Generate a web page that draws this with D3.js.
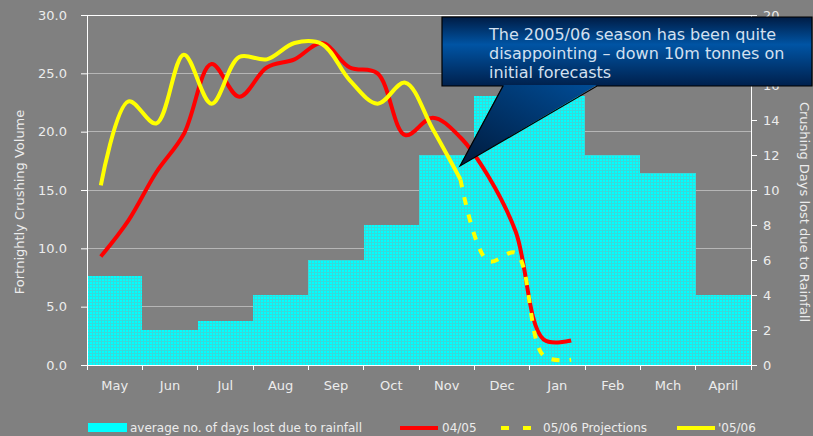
<!DOCTYPE html>
<html>
<head>
<meta charset="utf-8">
<script src="https://cdn.jsdelivr.net/npm/d3@7"></script>
<style>
  html, body { margin: 0; padding: 0; background: #808080; }
  svg { display: block; }
  text { font-family: "DejaVu Sans", Verdana, sans-serif; }
</style>
</head>
<body>
<svg id="chart" width="813" height="436"></svg>
<script>
// Season months (crushing season runs May to April)
const months = ["May", "Jun", "Jul", "Aug", "Sep", "Oct", "Nov", "Dec", "Jan", "Feb", "Mch", "April"];

// Average number of crushing days lost to rainfall per month (right axis)
const daysLost = [5.1, 2.0, 2.5, 4.0, 6.0, 8.0, 12.0, 15.4, 15.4, 12.0, 11.0, 4.0];

// Fortnightly crushing volume, 04/05 season (May fortnight 1 onwards)
const crush0405 = [9.3, 12.4, 16.5, 19.8, 25.8, 23.0, 25.5, 26.2, 27.6, 25.5, 25.0, 19.7, 21.2, 19.5, 16.2, 11.4, 2.2, 2.1];

// Fortnightly crushing volume, 05/06 season actuals (May fortnight 1 onwards)
const crush0506 = [15.4, 22.6, 20.7, 26.6, 22.4, 26.4, 26.2, 27.6, 27.5, 24.4, 22.4, 24.2, 20.2, 15.9];

// 05/06 projections, continuing from the last actual fortnight
const projFortnights = ["Nov 2", "Dec 1", "Dec 2", "Jan 1", "Jan 2"];
const proj0506 = [15.9, 8.9, 9.6, 0.8, 0.45];

const leftTicks = [0, 5, 10, 15, 20, 25, 30];
const rightTicks = [0, 2, 4, 6, 8, 10, 12, 14, 16, 18, 20];

const calloutLines = [
  "The 2005/06 season has been quite",
  "disappointing \u2013 down 10m tonnes on",
  "initial forecasts"
];

// Two fortnights per month
const fortnights = months.flatMap(m => [m + " 1", m + " 2"]);

const svg = d3.select("#chart");
const W = 813, H = 436;
const plot = { left: 87, right: 751, top: 15, bottom: 365 };

const xBand = d3.scaleBand().domain(months).range([plot.left, plot.right]).padding(0);
const xFort = d3.scalePoint().domain(fortnights).range([plot.left, plot.right]).padding(0.5);
const yL = d3.scaleLinear().domain([0, 30]).range([plot.bottom, plot.top]);
const yR = d3.scaleLinear().domain([0, 20]).range([plot.bottom, plot.top]);

const defs = svg.append("defs");

// Fine grid texture on the rainfall bars
const pat = defs.append("pattern")
  .attr("id", "barTex").attr("patternUnits", "userSpaceOnUse")
  .attr("width", 3).attr("height", 3);
pat.append("rect").attr("width", 3).attr("height", 3).attr("fill", "#00ffff");
pat.append("rect").attr("x", 0).attr("y", 2).attr("width", 3).attr("height", 1).attr("fill", "#38dada");
pat.append("rect").attr("x", 2).attr("y", 0).attr("width", 1).attr("height", 3).attr("fill", "#38dada");

// Callout gradients
const gBox = defs.append("linearGradient").attr("id", "boxGrad")
  .attr("x1", 0).attr("y1", 0).attr("x2", 0).attr("y2", 1);
gBox.append("stop").attr("offset", "0%").attr("stop-color", "#001c44");
gBox.append("stop").attr("offset", "40%").attr("stop-color", "#0054a4");
gBox.append("stop").attr("offset", "100%").attr("stop-color", "#00204c");

const gPtr = defs.append("linearGradient").attr("id", "ptrGrad")
  .attr("x1", 0.9).attr("y1", 0).attr("x2", 0).attr("y2", 1);
gPtr.append("stop").attr("offset", "0%").attr("stop-color", "#004a92");
gPtr.append("stop").attr("offset", "100%").attr("stop-color", "#001a3c");

// Background
svg.append("rect").attr("width", W).attr("height", H).attr("fill", "#808080");

// Horizontal gridlines at left-axis ticks
svg.append("g").selectAll("line")
  .data(leftTicks.filter(d => d > 0))
  .join("line")
  .attr("x1", plot.left).attr("x2", plot.right)
  .attr("y1", d => yL(d)).attr("y2", d => yL(d))
  .attr("stroke", d => d === 30 ? "#ffffff" : "#b6b6b6")
  .attr("stroke-width", 1)
  .attr("shape-rendering", "crispEdges");

// Rainfall bars (right axis)
svg.append("g").selectAll("rect")
  .data(months.map((m, i) => ({ m, v: daysLost[i] })))
  .join("rect")
  .attr("x", d => xBand(d.m))
  .attr("width", xBand.bandwidth())
  .attr("y", d => yR(d.v))
  .attr("height", d => yR(0) - yR(d.v))
  .attr("fill", "url(#barTex)")
  .attr("shape-rendering", "crispEdges");

// Axes
const styleAxis = g => {
  g.selectAll(".domain").attr("stroke", "#ffffff").attr("stroke-width", 1);
  g.selectAll(".tick line").attr("stroke", "#ffffff");
  g.selectAll(".tick text").attr("fill", "#ececec").attr("font-size", 13)
    .attr("font-family", "'DejaVu Sans', Verdana, sans-serif");
};

svg.append("g")
  .attr("transform", `translate(${plot.left},0)`)
  .call(d3.axisLeft(yL).tickValues(leftTicks).tickFormat(d3.format(".1f"))
    .tickSize(6).tickSizeOuter(0).tickPadding(14))
  .call(styleAxis);

svg.append("g")
  .attr("transform", `translate(${plot.right},0)`)
  .call(d3.axisRight(yR).tickValues(rightTicks).tickFormat(d3.format("d"))
    .tickSize(6).tickSizeOuter(0).tickPadding(6))
  .call(styleAxis);

const xAxis = svg.append("g")
  .attr("transform", `translate(0,${plot.bottom})`)
  .call(d3.axisBottom(xBand).tickSize(0).tickPadding(16))
  .call(styleAxis);

// Month boundary ticks on the category axis
svg.append("g").selectAll("line")
  .data(months.map(m => xBand(m)).concat([plot.right]))
  .join("line")
  .attr("x1", d => d).attr("x2", d => d)
  .attr("y1", plot.bottom).attr("y2", plot.bottom + 5)
  .attr("stroke", "#ffffff")
  .attr("shape-rendering", "crispEdges");

// Crushing volume lines (left axis)
const line = d3.line()
  .x(d => xFort(d.f))
  .y(d => yL(d.v))
  .curve(d3.curveCatmullRom.alpha(0.5));

const series0405 = crush0405.map((v, i) => ({ f: fortnights[i], v }));
const series0506 = crush0506.map((v, i) => ({ f: fortnights[i], v }));
const seriesProj = proj0506.map((v, i) => ({ f: projFortnights[i], v }));

svg.append("path").datum(series0405)
  .attr("d", line).attr("fill", "none")
  .attr("stroke", "#ff0000").attr("stroke-width", 4);

svg.append("path").datum(seriesProj)
  .attr("d", line).attr("fill", "none")
  .attr("stroke", "#ffff00").attr("stroke-width", 4)
  .attr("stroke-dasharray", "8,10");

svg.append("path").datum(series0506)
  .attr("d", line).attr("fill", "none")
  .attr("stroke", "#ffff00").attr("stroke-width", 4);

// Axis titles
svg.append("text")
  .attr("transform", "translate(19,202) rotate(-90)")
  .attr("text-anchor", "middle").attr("dy", "0.35em")
  .attr("font-size", 13).attr("fill", "#ececec")
  .text("Fortnightly Crushing Volume");

svg.append("text")
  .attr("transform", "translate(805,212) rotate(90)")
  .attr("text-anchor", "middle").attr("dy", "0.35em")
  .attr("font-size", 13).attr("fill", "#ececec")
  .text("Crushing Days lost due to Rainfall");

// Callout box with pointer to the end of the 05/06 actuals
const box = { x0: 442, x1: 812, y0: 17, y1: 86 };
const tip = { x: 460, y: 166 };
const base = { a: 503, b: 597 };

const callout = svg.append("g");
callout.append("rect")
  .attr("x", box.x0).attr("y", box.y0)
  .attr("width", box.x1 - box.x0).attr("height", box.y1 - box.y0)
  .attr("fill", "url(#boxGrad)");
callout.append("path")
  .attr("d", `M${base.a},${box.y1 - 1} L${base.b},${box.y1 - 1} L${tip.x},${tip.y} Z`)
  .attr("fill", "url(#ptrGrad)");
callout.append("path")
  .attr("d", `M${box.x0},${box.y0} H${box.x1} V${box.y1} H${base.b} L${tip.x},${tip.y} L${base.a},${box.y1} H${box.x0} Z`)
  .attr("fill", "none").attr("stroke", "#000000").attr("stroke-width", 1.2)
  .attr("stroke-linejoin", "miter");
callout.append("g").selectAll("text")
  .data(calloutLines)
  .join("text")
  .attr("x", 489)
  .attr("y", (d, i) => 39.5 + i * 19)
  .attr("font-size", 16)
  .attr("fill", "#d3e0f0")
  .text(d => d);

// Legend
const legend = svg.append("g").attr("font-size", 12).attr("fill", "#ececec");
legend.append("rect").attr("x", 88).attr("y", 423).attr("width", 39).attr("height", 9).attr("fill", "#00ffff");
legend.append("text").attr("x", 130).attr("y", 432).text("average no. of days lost due to rainfall");

legend.append("line").attr("x1", 400).attr("x2", 438).attr("y1", 428).attr("y2", 428)
  .attr("stroke", "#ff0000").attr("stroke-width", 4);
legend.append("text").attr("x", 442).attr("y", 432).text("04/05");

legend.append("line").attr("x1", 501).attr("x2", 531).attr("y1", 428).attr("y2", 428)
  .attr("stroke", "#ffff00").attr("stroke-width", 4).attr("stroke-dasharray", "8,14");
legend.append("text").attr("x", 543).attr("y", 432).text("05/06 Projections");

legend.append("line").attr("x1", 677).attr("x2", 715).attr("y1", 428).attr("y2", 428)
  .attr("stroke", "#ffff00").attr("stroke-width", 4);
legend.append("text").attr("x", 718).attr("y", 432).text("'05/06");
</script>
</body>
</html>
